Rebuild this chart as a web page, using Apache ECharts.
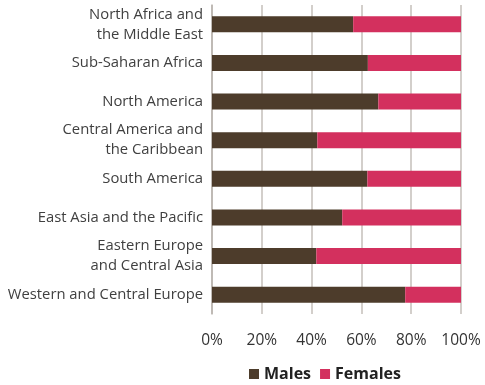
<!DOCTYPE html>
<html><head><meta charset="utf-8">
<script src="https://cdn.jsdelivr.net/npm/echarts@6/dist/echarts.min.js"></script>
<style>html,body{margin:0;padding:0;background:#fff}#c{width:485px;height:385px}</style>
</head><body><div id="c"></div>
<script>
const categories = [
  "North Africa and\nthe Middle East",
  "Sub-Saharan Africa",
  "North America",
  "Central America and\nthe Caribbean",
  "South America",
  "East Asia and the Pacific",
  "Eastern Europe\nand Central Asia",
  "Western and Central Europe"
];
const males = [56.7, 62.6, 66.8, 42.3, 62.4, 52.3, 41.9, 77.6];
const females = [43.3, 37.4, 33.2, 57.7, 37.6, 47.7, 58.1, 22.4];
const xTicks = [0, 20, 40, 60, 80, 100];

const chart = echarts.init(document.getElementById('c'));
const font = "'Open Sans', 'Noto Sans', sans-serif";
chart.setOption({
  animation: false,
  grid: { left: 212, right: 24, top: 5, bottom: 71, containLabel: false },
  xAxis: {
    type: 'value', min: 0, max: 100, interval: 20,
    axisLine: { show: false },
    axisTick: { show: false },
    splitLine: { show: true, lineStyle: { color: '#c4bfba', width: 1.5 } },
    axisLabel: { formatter: v => xTicks.includes(v) ? v + '%' : '', color: '#333', fontFamily: font, fontSize: 15.5, margin: 19 }
  },
  yAxis: {
    type: 'category', data: categories, inverse: true,
    axisLine: { show: true, lineStyle: { color: '#b8b3ae', width: 1.5 } },
    axisTick: { show: false },
    axisLabel: { color: '#404040', fontFamily: font, fontSize: 14.8, lineHeight: 20, margin: 9, align: 'right' }
  },
  legend: {
    top: 361, left: 244, itemWidth: 10, itemHeight: 10, itemGap: 9,
    icon: 'rect',
    textStyle: { fontFamily: font, fontSize: 16, fontWeight: 'bold', color: '#222' },
    data: ['Males', 'Females']
  },
  series: [
    { name: 'Males', type: 'bar', stack: 't', data: males, barWidth: 16, itemStyle: { color: '#4d3c2b' } },
    { name: 'Females', type: 'bar', stack: 't', data: females, barWidth: 16, itemStyle: { color: '#d3305e' } }
  ]
});
</script></body></html>
